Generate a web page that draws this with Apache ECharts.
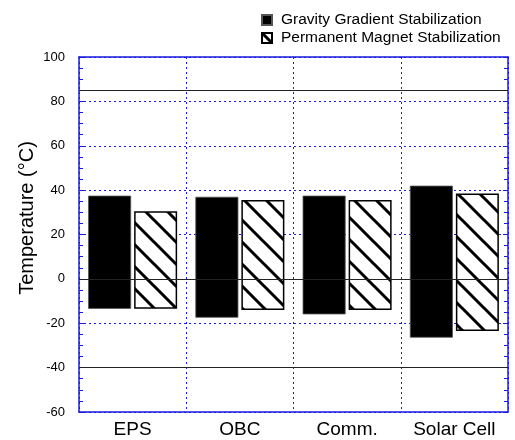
<!DOCTYPE html>
<html>
<head>
<meta charset="utf-8">
<script src="https://cdn.jsdelivr.net/npm/echarts@6/dist/echarts.min.js"></script>
<style>
html,body{margin:0;padding:0;background:#fff;}
#chart{width:515px;height:440px;}
</style>
</head>
<body>
<div id="chart"></div>
<script>
var categories = ['EPS', 'OBC', 'Comm.', 'Solar Cell'];
var gravityHigh = [37.5, 37, 37.5, 42];
var gravityLow = [-13.5, -17.5, -16, -26.5];
var magnetHigh = [30.5, 35.5, 35.5, 38.5];
var magnetLow = [-13.5, -14, -14, -23.5];
var limitLines = [85, 0, -40];
var yTicks = {min: -60, max: 100, interval: 20};

var BLUE = '#1a1ae0';
var FONT = '"Liberation Sans", Arial, sans-serif';

function hatch() {
  var s = 22;
  var c = document.createElement('canvas');
  c.width = s; c.height = s;
  var ctx = c.getContext('2d');
  ctx.fillStyle = '#fff';
  ctx.fillRect(0, 0, s, s);
  ctx.strokeStyle = '#000';
  ctx.lineWidth = 3;
  ctx.lineCap = 'square';
  for (var k = -1; k <= 1; k++) {
    ctx.beginPath();
    ctx.moveTo(k * s - 4, -4);
    ctx.lineTo(k * s + s + 4, s + 4);
    ctx.stroke();
  }
  return c;
}

function range(hi, lo) {
  return hi.map(function (h, i) { return h - lo[i]; });
}

var chart = echarts.init(document.getElementById('chart'), null, {renderer: 'canvas'});
var hatchPattern = {image: hatch(), repeat: 'repeat'};

var option = {
  animation: false,
  backgroundColor: '#fff',
  textStyle: {fontFamily: FONT},
  grid: {left: 79, right: 7, top: 57, bottom: 28},
  legend: {
    orient: 'vertical',
    left: 256,
    top: 7,
    icon: 'rect',
    itemWidth: 10,
    itemHeight: 10,
    itemGap: 2,
    textStyle: {fontSize: 15.5, color: '#000', fontFamily: FONT, lineHeight: 16, padding: [0, 0, 0, 4]},
    data: ['Gravity Gradient Stabilization', 'Permanent Magnet Stabilization'],
    selectedMode: false
  },
  xAxis: [{
    type: 'category',
    data: categories,
    boundaryGap: true,
    axisLine: {show: true, onZero: false, lineStyle: {color: BLUE, width: 1.5}},
    axisTick: {show: false},
    axisLabel: {fontSize: 19, color: '#000', margin: 8, fontFamily: FONT},
    splitLine: {show: true, lineStyle: {color: BLUE, type: [2, 3], width: 1}}
  }, {
    type: 'category',
    data: categories,
    position: 'top',
    boundaryGap: true,
    axisLine: {show: true, onZero: false, lineStyle: {color: BLUE, width: 1.5}},
    axisTick: {show: false},
    axisLabel: {show: false},
    splitLine: {show: false}
  }],
  yAxis: [{
    type: 'value',
    min: yTicks.min, max: yTicks.max, interval: yTicks.interval,
    axisLine: {show: true, onZero: false, lineStyle: {color: BLUE, width: 1.5}},
    axisTick: {show: true, inside: true, length: 5, lineStyle: {color: BLUE, width: 1}},
    minorTick: {show: true, splitNumber: 4, length: 4, lineStyle: {color: BLUE, width: 1}},
    axisLabel: {fontSize: 13, color: '#000', margin: 14, fontFamily: FONT},
    splitLine: {show: true, lineStyle: {color: BLUE, type: [2, 3], width: 1}}
  }, {
    type: 'value',
    position: 'right',
    min: yTicks.min, max: yTicks.max, interval: yTicks.interval,
    axisLine: {show: true, onZero: false, lineStyle: {color: BLUE, width: 1.5}},
    axisTick: {show: true, inside: true, length: 5, lineStyle: {color: BLUE, width: 1}},
    minorTick: {show: true, splitNumber: 4, length: 4, lineStyle: {color: BLUE, width: 1}},
    axisLabel: {show: false},
    splitLine: {show: false}
  }],
  graphic: [{
    type: 'text',
    x: 27, y: 218,
    rotation: Math.PI / 2,
    style: {
      text: 'Temperature (\u00B0C)',
      fontSize: 20,
      fontFamily: FONT,
      fill: '#000',
      align: 'center',
      verticalAlign: 'middle'
    }
  }],
  series: [{
    name: 'limits',
    type: 'line',
    data: [null, null, null, null],
    z: 1,
    silent: true,
    markLine: {
      silent: true,
      symbol: 'none',
      label: {show: false},
      lineStyle: {color: '#222', type: 'solid', width: 1},
      data: limitLines.map(function (v) { return {yAxis: v}; })
    }
  }, {
    name: 'gBase',
    type: 'bar',
    stack: 'g',
    stackStrategy: 'all',
    barWidth: 43,
    barGap: '7%',
    silent: true,
    itemStyle: {color: 'transparent'},
    data: gravityLow,
    z: 3
  }, {
    name: 'Gravity Gradient Stabilization',
    type: 'bar',
    stack: 'g',
    stackStrategy: 'all',
    barWidth: 43,
    barGap: '7%',
    silent: true,
    itemStyle: {color: '#000', borderColor: '#555', borderWidth: 0.8},
    data: range(gravityHigh, gravityLow),
    z: 3
  }, {
    name: 'mBase',
    type: 'bar',
    stack: 'm',
    stackStrategy: 'all',
    barWidth: 43,
    barGap: '7%',
    silent: true,
    itemStyle: {color: 'transparent'},
    data: magnetLow,
    z: 3
  }, {
    name: 'Permanent Magnet Stabilization',
    type: 'bar',
    stack: 'm',
    stackStrategy: 'all',
    barWidth: 43,
    barGap: '7%',
    silent: true,
    itemStyle: {color: hatchPattern, borderColor: '#000', borderWidth: 1.5},
    data: range(magnetHigh, magnetLow),
    z: 3
  }]
};
chart.setOption(option);
</script>
</body>
</html>
